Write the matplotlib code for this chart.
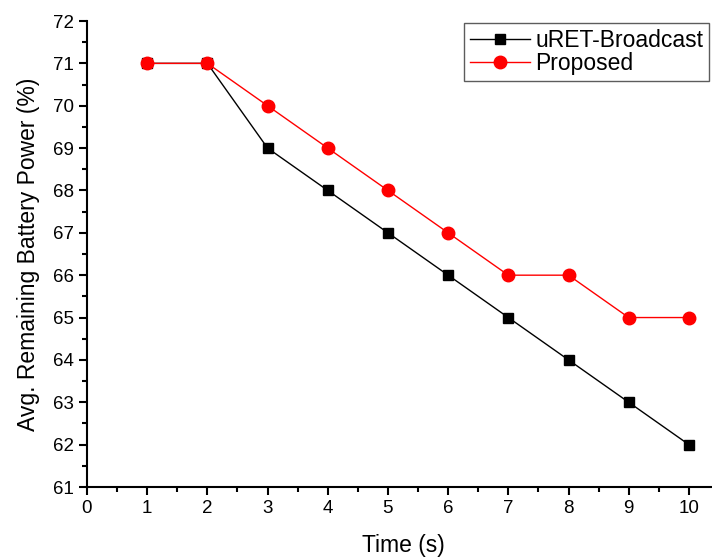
import matplotlib
matplotlib.use("Agg")
from matplotlib import pyplot as plt
from matplotlib.ticker import MultipleLocator

time_s = [1, 2, 3, 4, 5, 6, 7, 8, 9, 10]
uret_broadcast = [71, 71, 69, 68, 67, 66, 65, 64, 63, 62]
proposed = [71, 71, 70, 69, 68, 67, 66, 66, 65, 65]

plt.rcParams["font.family"] = ["Liberation Sans", "DejaVu Sans"]

fig = plt.figure(figsize=(7.12, 5.59), dpi=100)
# axis runs off the right edge like the original
ax = fig.add_axes([87 / 712, 1 - 487 / 559, 632 / 712, 466 / 559])

ax.plot(time_s, uret_broadcast, color="black", lw=1, marker="s", ms=7.5,
        label="uRET-Broadcast")
ax.plot(time_s, proposed, color="red", lw=1, marker="o", ms=9,
        label="Proposed")

ax.set_xlim(0, 10.5)
ax.set_ylim(61, 72)
ax.xaxis.set_major_locator(MultipleLocator(1))
ax.xaxis.set_minor_locator(MultipleLocator(0.5))
ax.yaxis.set_major_locator(MultipleLocator(1))
ax.yaxis.set_minor_locator(MultipleLocator(0.5))
ax.set_xticks(range(0, 11))

ax.spines["top"].set_visible(False)
ax.spines["right"].set_visible(False)
ax.spines["left"].set_linewidth(1.5)
ax.spines["bottom"].set_linewidth(1.5)
ax.tick_params(which="major", direction="out", length=6, width=1.5, labelsize=13.5)
ax.tick_params(which="minor", direction="out", length=3.5, width=1.5)

ax.set_xlabel("Time (s)", fontsize=16.5, labelpad=12)
ax.set_ylabel("Avg. Remaining Battery Power (%)", fontsize=16.5, labelpad=9)

leg = ax.legend(loc="upper right", bbox_to_anchor=(709 / 712, 1 - 23 / 559),
                bbox_transform=fig.transFigure, fontsize=16.5, fancybox=False,
                edgecolor="#333333", borderpad=0.25, labelspacing=0.02,
                handlelength=2.6, handletextpad=0.25, borderaxespad=0)
leg.get_frame().set_linewidth(1)

fig.savefig("out.png", dpi=100)
